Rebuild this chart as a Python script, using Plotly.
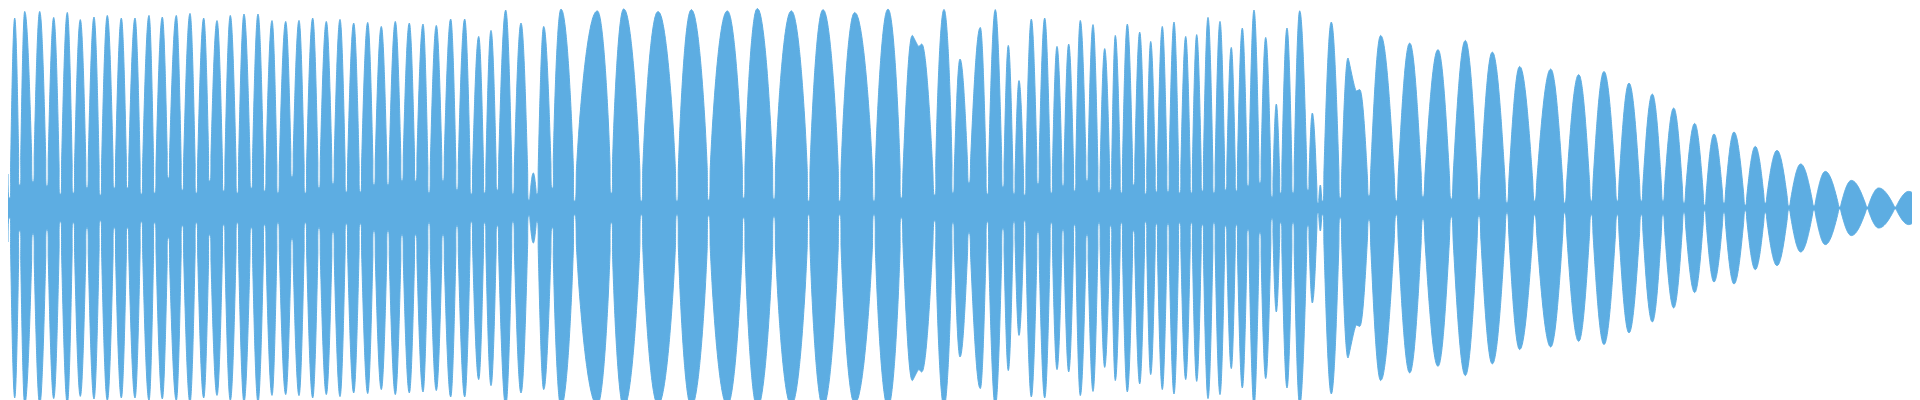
import plotly.graph_objects as go

# ---------------- data ----------------
# x: position along the track (0..1920), amp: envelope height in % of full scale
edge_x = [0, 1920]
edge_amp = [17, 5]

peak_x = [
    6.7, 16.7, 31.7, 45.7, 59.3, 72.3, 86, 99.3, 113.3, 127,
    141, 154.3, 168.3, 182, 195.7, 209, 222.3, 236, 250, 264,
    277.7, 291, 304.7, 318.3, 332, 345.7, 359.7, 373.3, 387.3, 401.3,
    415, 428.3, 442.7, 456.7, 470.7, 483, 497.7, 513, 525.3, 535.7,
    553, 589.3, 615.7, 650, 683.3, 719.3, 749.3, 783.3, 815, 846.7,
    880, 904.3, 936, 952, 972.3, 987.3, 1000.3, 1011, 1023.3, 1036.7,
    1049, 1060.7, 1072.3, 1085, 1096.7, 1107.3, 1119.3, 1131.7, 1142.7, 1154.3,
    1166, 1177.7, 1188.7, 1200, 1212, 1223.3, 1234.3, 1246, 1257.7, 1268.3,
    1279, 1291.7, 1304.3, 1312.3, 1323.3, 1340, 1372.7, 1401.7, 1430, 1457.3,
    1484.3, 1511.7, 1542.7, 1570.7, 1596, 1621, 1644.3, 1665.7, 1686.7, 1706,
    1726, 1747.3, 1769, 1792.7, 1817.3, 1843.3, 1870.7, 1900.7,
]
peak_amp = [
    95, 98.3, 98.3, 95.3, 97.8, 94.2, 95.5, 96.3, 95, 95,
    96.3, 95.5, 96.3, 97.3, 95, 93.7, 96.3, 97, 97, 93.7,
    93.3, 93.8, 95, 93.3, 94.3, 92.5, 92.8, 90.8, 93.3, 92.5,
    92, 91.3, 94.5, 94.5, 85.8, 88.8, 99, 92.5, 17.5, 90.8,
    99.5, 98.6, 99.6, 98.3, 99.2, 98.6, 99.8, 98.6, 99.2, 97.8,
    99.5, 86.3, 99.3, 74.5, 90.3, 99.2, 81.3, 63.7, 94.5, 95,
    80.8, 82, 93.8, 91.7, 79.7, 86.3, 92, 88, 83.3, 90.8,
    93, 85.8, 86.7, 95.3, 93.3, 80.3, 90, 99, 85.3, 52,
    90, 98.6, 47.5, 11.5, 93, 75, 86.3, 82.5, 79.2, 83.8,
    78, 70.8, 69.5, 66.7, 68.3, 62.5, 57, 50, 42.3, 37,
    38, 30.8, 28.8, 22, 18.3, 13.8, 10, 8.3,
]

# secondary tops of the two double-humped lobes
shoulder_x = [910.7, 913.7, 1348.3, 1351.7]
shoulder_amp = [80.8, 82, 58.5, 59.2]

trough_x = [
    1.5, 11.7, 25, 39, 52.3, 65.3, 79, 92.3, 106.3, 119.5,
    133.3, 146.7, 160.3, 174.3, 188.3, 201.7, 215.7, 229.3, 243.3, 256.7,
    270, 284, 297.3, 311, 325, 338.3, 352.3, 366, 380, 394,
    407.7, 421, 435, 449, 463.3, 476.7, 489.3, 505, 521, 529,
    544.3, 566.7, 603.3, 633.3, 669, 700.7, 735.7, 766, 800.7, 831.7,
    866, 893.3, 926.7, 945, 961, 979.3, 995, 1006, 1016.7, 1030,
    1043.3, 1055, 1066.7, 1079, 1091, 1102.7, 1113.3, 1125.7, 1137.7, 1148.3,
    1160, 1171.7, 1183.3, 1194.3, 1206, 1217.7, 1228.3, 1240, 1252, 1264,
    1272.7, 1285, 1300, 1310, 1314.5, 1332.3, 1361, 1388.3, 1415, 1443.3,
    1471, 1499, 1526.7, 1556.7, 1583.3, 1609.3, 1633.3, 1655, 1676, 1696.7,
    1716, 1737.3, 1757.3, 1781, 1806, 1831.7, 1859.3, 1887.3, 1915,
]
trough_amp = [
    5, 11.5, 13, 11, 7, 7.5, 10, 6.5, 10, 10,
    7, 7.5, 15, 9, 7.5, 13.5, 8.5, 7.5, 10, 8.5,
    7.5, 15.5, 7.5, 10, 12, 8, 8, 11.5, 11.5, 13.5,
    13.5, 7.5, 13.5, 9, 7, 7.5, 9, 7, 4, 7,
    10, 3.5, 7.5, 3.5, 3.5, 4, 5, 4.5, 3.5, 3.5,
    3.5, 5, 6.5, 7.5, 12.5, 7, 10.5, 7, 6.5, 12,
    7.5, 11, 8.5, 13.5, 7.5, 9, 7.5, 11.5, 7, 8,
    8, 7.5, 7.5, 8.5, 7.5, 9, 8.5, 11, 12.5, 5.5,
    7.5, 7.5, 9, 2.5, 3.5, 5, 6, 3.5, 5.5, 4.5,
    4, 2.5, 3.5, 2.5, 3.5, 3.5, 3.5, 3.5, 2.5, 1.5,
    2.5, 1.5, 2.5, 1, 1, 0.5, 0.5, 0.5, 0.5,
]

assert len(peak_x) == len(peak_amp)
assert len(trough_x) == len(trough_amp)
assert len(shoulder_x) == len(shoulder_amp)

# ---------------- style ----------------
COLOR = "#5DADE2"
GAP = 0.6  # half-width of the notch at each trough (x units)
# lobe flank profiles: (fraction of foot->top distance, fraction of rise)
PROFILE_ROUND = [(0, 0), (0.1, 0.156), (0.2, 0.309), (0.3, 0.454), (0.4, 0.588),
                 (0.5, 0.707), (0.6, 0.809), (0.7, 0.891), (0.8, 0.951),
                 (0.9, 0.988), (1, 1)]
PROFILE_FULL = [(0, 0), (0.05, 0.16), (0.1, 0.262), (0.15, 0.351), (0.2, 0.43),
                (0.3, 0.566), (0.4, 0.682), (0.5, 0.779), (0.6, 0.858),
                (0.7, 0.92), (0.8, 0.965), (0.9, 0.991), (1, 1)]
FULL_AMP, FULL_WIDTH = 96, 15

# ---------------- build the envelope outline ----------------
tops = sorted(list(zip(peak_x, peak_amp)) + list(zip(shoulder_x, shoulder_amp)))

xs, ys = [edge_x[0]], [edge_amp[0]]
for i in range(len(trough_x) - 1):
    lx, la = trough_x[i] + GAP, trough_amp[i]
    rx, ra = trough_x[i + 1] - GAP, trough_amp[i + 1]
    lobe = [t for t in tops if trough_x[i] < t[0] < trough_x[i + 1]]
    if i == 0:
        xs.append(trough_x[0] - GAP)
        ys.append(la)
    if not lobe:
        xs += [lx, rx]
        ys += [la, ra]
        continue
    main_amp = max(a for _, a in lobe)
    prof = PROFILE_FULL if (main_amp >= FULL_AMP and rx - lx >= FULL_WIDTH) else PROFILE_ROUND
    px, pa = lobe[0]
    for u, h in prof:
        xs.append(lx + u * (px - lx))
        ys.append(la + h * (pa - la))
    for tx, ta in lobe[1:-1]:
        xs.append(tx)
        ys.append(ta)
    qx, qa = lobe[-1]
    for u, h in reversed(prof):
        if len(lobe) == 1 and u == 1:
            continue
        xs.append(rx - u * (rx - qx))
        ys.append(ra + h * (qa - ra))
xs += [trough_x[-1] + GAP, edge_x[1]]
ys += [trough_amp[-1], edge_amp[1]]

lower = [-y for y in ys]

fig = go.Figure()
fig.add_trace(go.Scatter(
    x=xs, y=ys, mode="lines",
    line=dict(color=COLOR, width=1, shape="spline", smoothing=0.6, simplify=False),
    hoverinfo="skip", showlegend=False,
))
fig.add_trace(go.Scatter(
    x=xs, y=lower, mode="lines", fill="tonexty", fillcolor=COLOR,
    line=dict(color=COLOR, width=1, shape="spline", smoothing=0.6, simplify=False),
    hoverinfo="skip", showlegend=False,
))

fig.update_layout(
    width=1920, height=400,
    margin=dict(l=0, r=0, t=0, b=0, pad=0),
    paper_bgcolor="white", plot_bgcolor="white",
    xaxis=dict(visible=False, range=[0, 1920], fixedrange=True),
    yaxis=dict(visible=False, range=[-100, 100], fixedrange=True),
    showlegend=False,
)

fig.write_html("out.html", config={"displayModeBar": False, "staticPlot": True})
